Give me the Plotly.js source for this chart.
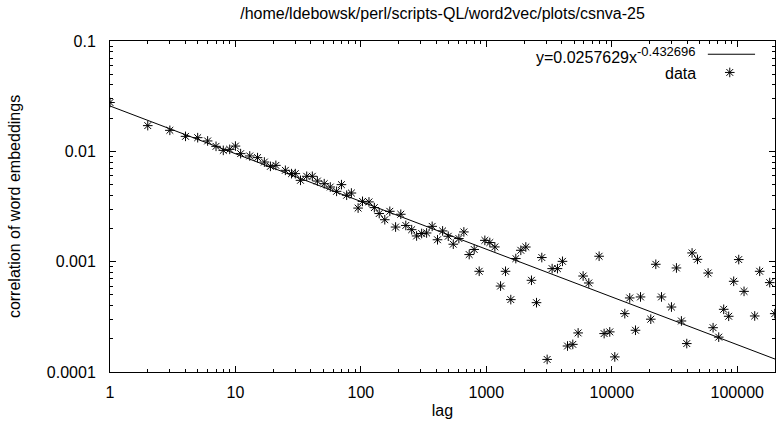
<!DOCTYPE html>
<html>
<head>
<meta charset="utf-8">
<script src="https://cdn.plot.ly/plotly-3.0.1.min.js"></script>
<style>
html,body{margin:0;padding:0;background:#fff;}
#chart{width:778px;height:423px;}
</style>
</head>
<body>
<div id="chart"></div>
<script>
// ---- data ----
const lags = [1,2,3,4,5,6,7,8,9,10,11,13,15,17,19,21,25,28,30,33,37,41,45,51,57,64,70,77,84,95,103,116,128,140,155,170,189,208,228,254,278,305,334,370,408,448,497,545,604,662,730,800,877,973,1066,1169,1298,1422,1567,1718,1883,2064,2290,2511,2768,3053,3345,3689,4045,4436,4890,5392,5907,6554,7925,8688,9634,10567,12700,13900,15450,16940,20460,22430,24900,29900,32760,35900,39600,43650,48200,58600,64200,71200,78000,85500,93700,102800,113300,137800,151000,181500,199000];
const corr = [0.0277,0.0171,0.0155,0.01367,0.0133,0.01242,0.0111,0.0102,0.01042,0.01116,0.00953,0.00908,0.00877,0.00800,0.00731,0.00746,0.00673,0.00628,0.00628,0.00546,0.00594,0.00594,0.00538,0.00509,0.00475,0.00434,0.00499,0.0040,0.00419,0.00306,0.00352,0.00348,0.00309,0.00273,0.0024,0.00286,0.00206,0.00269,0.00213,0.00195,0.00171,0.0018,0.00182,0.00209,0.00158,0.0019,0.0017,0.00144,0.00162,0.00186,0.00116,0.00129,0.000818,0.00156,0.00149,0.00136,0.000601,0.000818,0.000453,0.001067,0.001268,0.001358,0.000678,0.000425,0.00109,0.00013,0.000865,0.000865,0.001007,0.000172,0.000178,0.000226,0.000741,0.000641,0.00112,0.000223,0.000231,0.000137,0.000338,0.000469,0.000239,0.000479,0.000301,0.000947,0.000479,0.000388,0.000877,0.00029,0.000181,0.0012,0.00105,0.000789,0.000252,0.000207,0.00037,0.00032,0.000664,0.001045,0.000538,0.000322,0.000818,0.000646,0.000338];
// fitted power law y = a * x^b
const fitA = 0.0257629;
const fitB = -0.432696;
const fitRange = [1, 200000];
const xTickVals = [1,10,100,1000,10000,100000];
const xTickText = ["1","10","100","1000","10000","100000"];
const yTickVals = [0.0001,0.001,0.01,0.1];
const yTickText = ["0.0001","0.001","0.01","0.1"];
const titleText = "/home/ldebowsk/perl/scripts-QL/word2vec/plots/csnva-25";
const fitLabel = "y=0.0257629x<sup><span style=\"font-size:13px\">-0.432696</span></sup>";
const dataLabel = "data";

// minor tick positions (2..9 per decade)
function minors(lo, hi){const r=[];for(let e=lo;e<=hi;e++){for(let m=2;m<=9;m++){r.push(m*Math.pow(10,e));}}return r;}

const fitX = fitRange;
const fitY = fitX.map(x => fitA*Math.pow(x, fitB));

const font = {family: "Liberation Sans, Arial, sans-serif", size: 16, color: "#000"};

const traces = [
  {x: fitX, y: fitY, mode: "lines", line: {color: "#000", width: 1}, hoverinfo: "skip", showlegend: false},
  {x: lags, y: corr, mode: "markers", marker: {symbol: "asterisk-open", size: 8, color: "#000", line: {color: "#000", width: 1}}, showlegend: false},
  // legend samples on an overlay axis in 0..1 units
  {x: [0.899, 0.97], y: [0.96, 0.96], xaxis: "x2", yaxis: "y2", mode: "lines", line: {color: "#000", width: 1}, hoverinfo: "skip", showlegend: false},
  {x: [0.932], y: [0.905], xaxis: "x2", yaxis: "y2", mode: "markers", marker: {symbol: "asterisk-open", size: 8, color: "#000", line: {color: "#000", width: 1}}, hoverinfo: "skip", showlegend: false}
];

const axCommon = {
  showline: true, linecolor: "#000", linewidth: 1, mirror: "ticks",
  ticks: "inside", ticklen: 6, tickwidth: 1, tickcolor: "#000",
  showgrid: false, zeroline: false, tickfont: font
};

const layout = {
  width: 778, height: 423,
  margin: {l: 110, r: 3, t: 41, b: 51, pad: 0},
  paper_bgcolor: "#fff", plot_bgcolor: "#fff",
  font: font,
  title: {text: titleText, font: font, x: 0.5, xref: "paper", xanchor: "center", y: 0.968, yref: "container", yanchor: "middle"},
  xaxis: Object.assign({}, axCommon, {
    type: "log", range: [0, Math.log10(200000)],
    tickmode: "array", tickvals: xTickVals, ticktext: xTickText,
    ticklabelstandoff: 6,
    minor: {tickmode: "array", tickvals: minors(0,5), ticks: "inside", ticklen: 3, tickcolor: "#000", tickwidth: 1, showgrid: false},
    title: {text: "lag", font: font, standoff: 4}
  }),
  yaxis: Object.assign({}, axCommon, {
    type: "log", range: [-4, -1],
    tickmode: "array", tickvals: yTickVals, ticktext: yTickText,
    ticklabelstandoff: 10,
    minor: {tickmode: "array", tickvals: minors(-4,-2), ticks: "inside", ticklen: 3, tickcolor: "#000", tickwidth: 1, showgrid: false},
    title: {text: "correlation of word embeddings", font: font, standoff: 22}
  }),
  xaxis2: {overlaying: "x", range: [0,1], visible: false, fixedrange: true},
  yaxis2: {overlaying: "y", range: [0,1], visible: false, fixedrange: true},
  annotations: [
    {text: fitLabel, xref: "paper", yref: "paper", x: 0.884, y: 0.958, xanchor: "right", yanchor: "middle", showarrow: false, font: font},
    {text: dataLabel, xref: "paper", yref: "paper", x: 0.884, y: 0.902, xanchor: "right", yanchor: "middle", showarrow: false, font: font}
  ],
  showlegend: false
};

Plotly.newPlot("chart", traces, layout, {staticPlot: true, displayModeBar: false});
</script>
</body>
</html>
